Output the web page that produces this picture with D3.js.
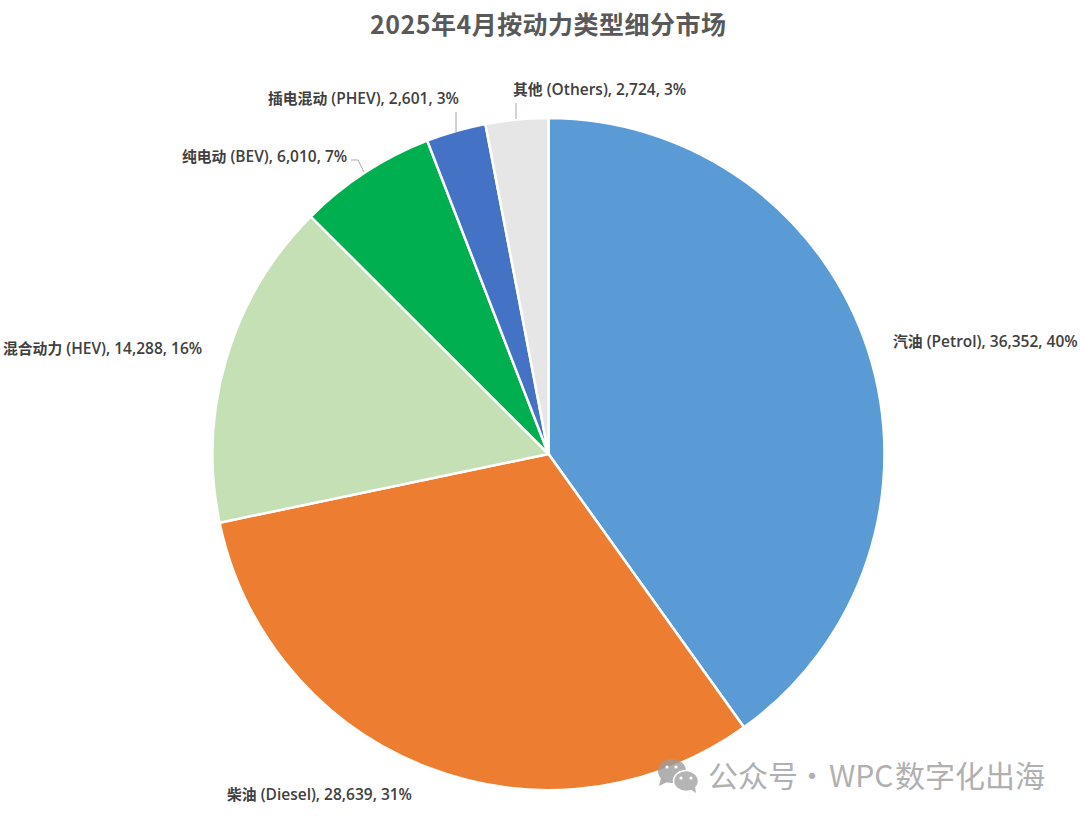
<!DOCTYPE html>
<html>
<head>
<meta charset="utf-8">
<script src="https://cdn.jsdelivr.net/npm/d3@7"></script>
<style>
  html, body { margin: 0; background: #fff; }
  text { font-family: "Open Sans", "Noto Sans CJK SC", sans-serif; }
</style>
</head>
<body>
<div id="chart"></div>
<script>
const namesZh = ["汽油", "柴油", "混合动力", "纯电动", "插电混动", "其他"];
const namesEn = ["(Petrol)", "(Diesel)", "(HEV)", "(BEV)", "(PHEV)", "(Others)"];
const values = [36352, 28639, 14288, 6010, 2601, 2724];
const percents = ["40%", "31%", "16%", "7%", "3%", "3%"];
const colors = ["#5b9bd5", "#ed7d31", "#c5e0b4", "#00b050", "#4472c4", "#e7e6e6"];

const width = 1080, height = 819;
const cx = 548.5, cy = 454, radius = 336;

const svg = d3.select("#chart").append("svg")
  .attr("width", width)
  .attr("height", height)
  .style("display", "block");

svg.append("text")
  .attr("x", 548)
  .attr("y", 34)
  .attr("text-anchor", "middle")
  .attr("font-size", 25)
  .attr("font-weight", 700)
  .attr("fill", "#595959")
  .attr("style", "font-family:'Noto Sans CJK SC'")
  .attr("textLength", 356)
  .text("2025年4月按动力类型细分市场");

const pie = d3.pie().sort(null)(values);
const arc = d3.arc().innerRadius(0).outerRadius(radius);

svg.append("g")
  .attr("transform", `translate(${cx},${cy})`)
  .selectAll("path")
  .data(pie)
  .join("path")
  .attr("d", arc)
  .attr("fill", (d, i) => colors[i])
  .attr("stroke", "#fff")
  .attr("stroke-width", 2.5);

// label spots picked by hand, the way the original chart had them dragged
const labelPos = [[893, 347], [227, 800], [3, 354], [182, 162], [268, 104], [513, 95]];
const labels = svg.append("g")
  .attr("font-weight", 600)
  .attr("fill", "#404040");

namesZh.forEach((zh, i) => {
  const t = labels.append("text")
    .attr("x", labelPos[i][0])
    .attr("y", labelPos[i][1]);
  t.append("tspan").attr("font-size", 14.8).text(zh);
  t.append("tspan").attr("font-size", 15.5).text(` ${namesEn[i]}, ${d3.format(",")(values[i])}, ${percents[i]}`);
});

// leader lines for the three small slices
const leaders = [
  [[351, 160], [358, 160], [364, 172]],
  [[456, 112], [456, 132]],
  [[516, 103], [516, 119]]
];
svg.append("g")
  .selectAll("path")
  .data(leaders)
  .join("path")
  .attr("d", d3.line())
  .attr("fill", "none")
  .attr("stroke", "#a6a6a6")
  .attr("stroke-width", 1);

// watermark: two chat bubbles and the account name
const wm = svg.append("g");
wm.append("path")
  .attr("d", "M661 778 L659 786 L667 782 Z")
  .attr("fill", "#9c9c9c")
  .attr("fill-opacity", 0.8);
wm.append("ellipse")
  .attr("cx", 672).attr("cy", 771).attr("rx", 14).attr("ry", 12)
  .attr("fill", "#9c9c9c")
  .attr("fill-opacity", 0.8);
wm.append("ellipse")
  .attr("cx", 686).attr("cy", 781).attr("rx", 12.5).attr("ry", 10.5)
  .attr("fill", "#b5b5b5")
  .attr("stroke", "#fff")
  .attr("stroke-width", 1.5);
wm.append("path")
  .attr("d", "M690 789 L696 793 L695 786 Z")
  .attr("fill", "#b5b5b5");
[[667, 767], [676, 767], [681, 778], [691, 778]].forEach(p => {
  wm.append("circle").attr("cx", p[0]).attr("cy", p[1]).attr("r", 1.6).attr("fill", "#fff");
});
const wmParts = [["公众号", 708], ["·", 797], ["WPC", 829], ["数字化出海", 895]];
wm.selectAll("text")
  .data(wmParts)
  .join("text")
  .attr("x", d => d[1])
  .attr("y", 787)
  .attr("font-size", 30)
  .attr("fill", "#b0b0b0")
  .attr("style", "font-family:'Noto Sans CJK SC'")
  .text(d => d[0]);
</script>
</body>
</html>
